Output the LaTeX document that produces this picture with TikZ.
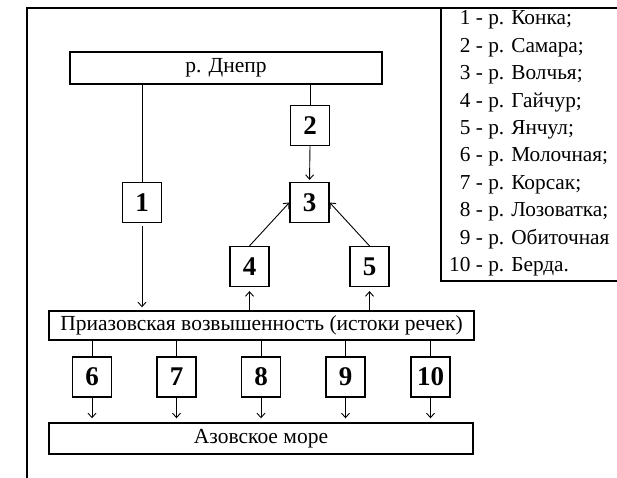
\documentclass[tikz,border=0pt]{standalone}
\usepackage{fontspec}
\setmainfont{Liberation Serif}
\usetikzlibrary{arrows.meta}
\begin{document}
\begin{tikzpicture}[x=1pt,y=-1pt,
  wide/.style={draw,line width=1.4pt,inner sep=0pt,font=\fontsize{21.5}{24}\selectfont},
  numbox/.style={draw,line width=1.2pt,minimum width=39pt,minimum height=40pt,inner sep=0pt,font=\fontsize{27}{28}\selectfont\bfseries},
  conn/.style={line width=0.9pt},
  arr/.style={line width=0.9pt,-{Straight Barb[length=4.5pt,width=8pt]}},
  frame/.style={line width=1.8pt},
  legend/.style={anchor=base west,inner sep=0pt,font=\fontsize{21.3}{24}\selectfont}
]
\useasboundingbox (0,0) rectangle (617,478);
% outer frame and legend frame
\coordinate (ftl) at (27,8);
\coordinate (ftr) at (617,8);
\coordinate (fbl) at (27,478);
\coordinate (lgtl) at (441,8);
\coordinate (lgbl) at (441,281);
\coordinate (lgbr) at (617,281);
\draw[frame] (fbl) -- (ftl) -- (ftr);
\draw[frame] (lgtl) -- (lgbl) -- (lgbr);
% legend
\foreach \t [count=\i] in {\phantom{1}1 - р. Конка;,\phantom{1}2 - р. Самара;,\phantom{1}3 - р. Волчья;,\phantom{1}4 - р. Гайчур;,\phantom{1}5 - р. Янчул;,\phantom{1}6 - р. Молочная;,\phantom{1}7 - р. Корсак;,\phantom{1}8 - р. Лозоватка;,\phantom{1}9 - р. Обиточная,10 - р. Берда.}
  \node[legend] (lg\i) at (449,{25+27.4*(\i-1)}) {\t};
% main boxes
\node[wide,minimum width=312pt,minimum height=32pt] (dnepr) at (226,68) {р. Днепр};
\node[wide,minimum width=425pt,minimum height=29pt] (priaz) at (261.5,325.5) {Приазовская возвышенность (истоки речек)};
\node[wide,minimum width=424pt,minimum height=31pt] (azov) at (261,438.5) {Азовское море};
% number boxes
\node[numbox] (b1) at (142,202.5) {1};
\node[numbox] (b2) at (310,125.5) {2};
\node[numbox] (b3) at (309.5,202.5) {3};
\node[numbox] (b4) at (249.5,266.5) {4};
\node[numbox] (b5) at (369.5,266.5) {5};
\node[numbox] (b6) at (92,377) {6};
\node[numbox] (b7) at (176.5,377) {7};
\node[numbox] (b8) at (261,377) {8};
\node[numbox] (b9) at (345.5,377) {9};
\node[numbox] (b10) at (430.5,377) {10};
% connectors
\draw[conn] (dnepr.south -| b1) -- (b1.north);
\draw[arr,shorten <=3pt,shorten >=3pt] (b1.south) -- (priaz.north -| b1);
\draw[conn] (dnepr.south -| b2) -- (b2.north);
\draw[arr,shorten >=2pt] (b2.south) -- (b3.north);
\draw[arr] (b4.north) -- (b3.west);
\draw[arr] (b5.north) -- (b3.east);
\draw[arr,shorten >=4pt] (priaz.north -| b4) -- (b4.south);
\draw[arr,shorten >=4pt] (priaz.north -| b5) -- (b5.south);
\foreach \k in {6,7,8,9,10}{
  \draw[conn] (priaz.south -| b\k) -- (b\k.north);
  \draw[arr,shorten >=4pt] (b\k.south) -- (azov.north -| b\k);
}
\end{tikzpicture}
\end{document}
